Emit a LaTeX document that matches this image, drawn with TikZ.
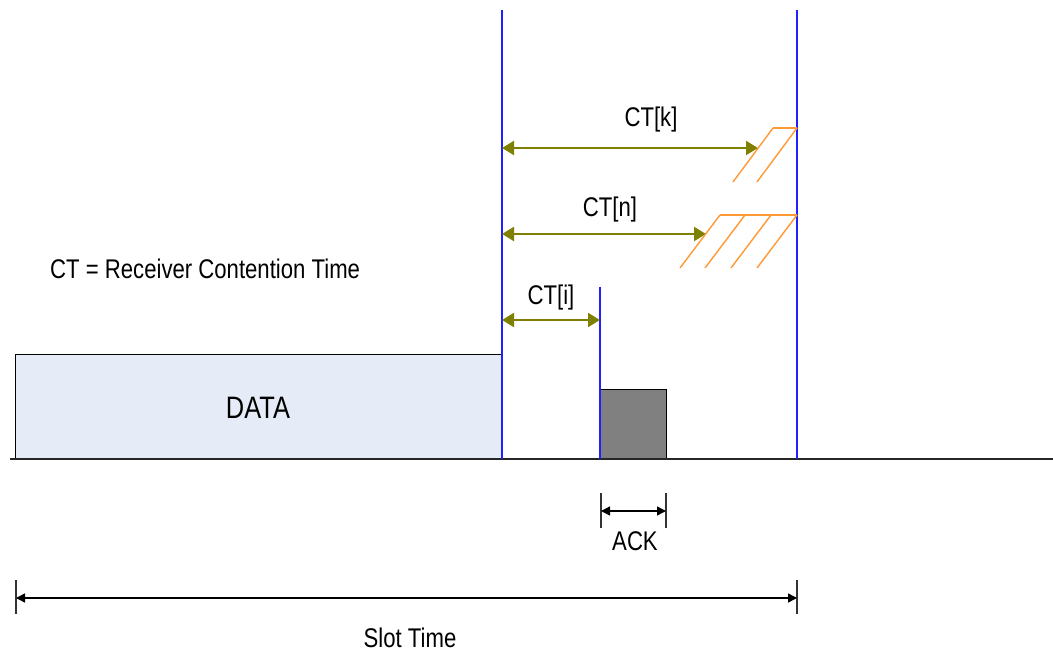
\documentclass[tikz,border=0pt]{standalone}
\usepackage{fontspec}
\setmainfont{Liberation Sans}[FakeStretch=0.82]
\usetikzlibrary{arrows.meta}
\definecolor{dataFill}{HTML}{E6ECF7}
\definecolor{ackFill}{HTML}{808080}
\definecolor{ctOlive}{HTML}{808000}
\definecolor{slotBlue}{HTML}{1F1FFF}
\definecolor{hatchOrange}{HTML}{FF9933}
\tikzset{
  axis/.style={line width=1.6pt, black!85},
  bound/.style={line width=1.4pt, slotBlue},
  ctarrow/.style={line width=2pt, ctOlive, {Triangle[length=12pt,width=14pt]}-{Triangle[length=12pt,width=14pt]}},
  dimarrow/.style={line width=1.4pt, black, {Triangle[length=9pt,width=9pt]}-{Triangle[length=9pt,width=9pt]}},
  tick/.style={line width=1.4pt, black!80},
  hatch/.style={line width=1.4pt, hatchOrange},
  lbl/.style={font=\fontsize{27}{30}\selectfont, inner sep=0pt},
  framebox/.style={draw=black, line width=1.2pt, inner sep=0pt, anchor=south west}
}
\begin{document}
\begin{tikzpicture}[x=1pt, y=-1pt]
\useasboundingbox (0,0) rectangle (1053,655);

% time axis
\coordinate (axL) at (10,459);
\coordinate (axR) at (1053,459);

% data frame and acknowledgement
\node[framebox, fill=dataFill, minimum width=487pt, minimum height=104pt] (data) at (15,459) {};
\node[lbl, font=\fontsize{31}{34}\selectfont] (datatxt) at (258,408) {DATA};
\node[framebox, fill=ackFill, minimum width=66pt, minimum height=69pt] (ack) at (600,459) {};

\draw[axis] (axL) -- (axR);

% slot boundaries
\coordinate (b1top) at (502,10);   \coordinate (b1bot) at (502,459);
\coordinate (b2top) at (797,10);   \coordinate (b2bot) at (797,459);
\coordinate (b3top) at (600,287);  \coordinate (b3bot) at (600,459);
\draw[bound] (b1top) -- (b1bot);
\draw[bound] (b2top) -- (b2bot);
\draw[bound] (b3top) -- (b3bot);

% contention times
\coordinate (kL) at (502,148); \coordinate (kR) at (758,148);
\coordinate (nL) at (502,234); \coordinate (nR) at (706,234);
\coordinate (iL) at (502,320); \coordinate (iR) at (600,320);
\draw[ctarrow] (kL) -- (kR);
\draw[ctarrow] (nL) -- (nR);
\draw[ctarrow] (iL) -- (iR);
\node[lbl] (ctk) at (651,120) {CT[k]};
\node[lbl] (ctn) at (610,210) {CT[n]};
\node[lbl] (cti) at (551,298) {CT[i]};

% hatched contention windows
\coordinate (hk) at (773,128);
\draw[hatch] (hk) -- (797,128);
\foreach \x in {773,797} \draw[hatch] (\x,128) -- ++(-40,54);
\coordinate (hn) at (720,215);
\draw[hatch] (hn) -- (797,215);
\foreach \x in {720,745,771,797} \draw[hatch] (\x,215) -- ++(-40,53);

\node[lbl, anchor=west] (legend) at (50,269) {CT = Receiver Contention Time};

% ACK duration
\coordinate (ackL) at (601,511); \coordinate (ackR) at (666,511);
\draw[tick] (601,493) -- (601,528);
\draw[tick] (666,493) -- (666,528);
\draw[dimarrow] (ackL) -- (ackR);
\node[lbl] (acktxt) at (635,541) {ACK};

% slot time
\coordinate (slL) at (16,598); \coordinate (slR) at (797,598);
\draw[tick] (16,580) -- (16,614);
\draw[tick] (797,580) -- (797,614);
\draw[dimarrow] (slL) -- (slR);
\node[lbl] (slottxt) at (410,638) {Slot Time};
\end{tikzpicture}
\end{document}
